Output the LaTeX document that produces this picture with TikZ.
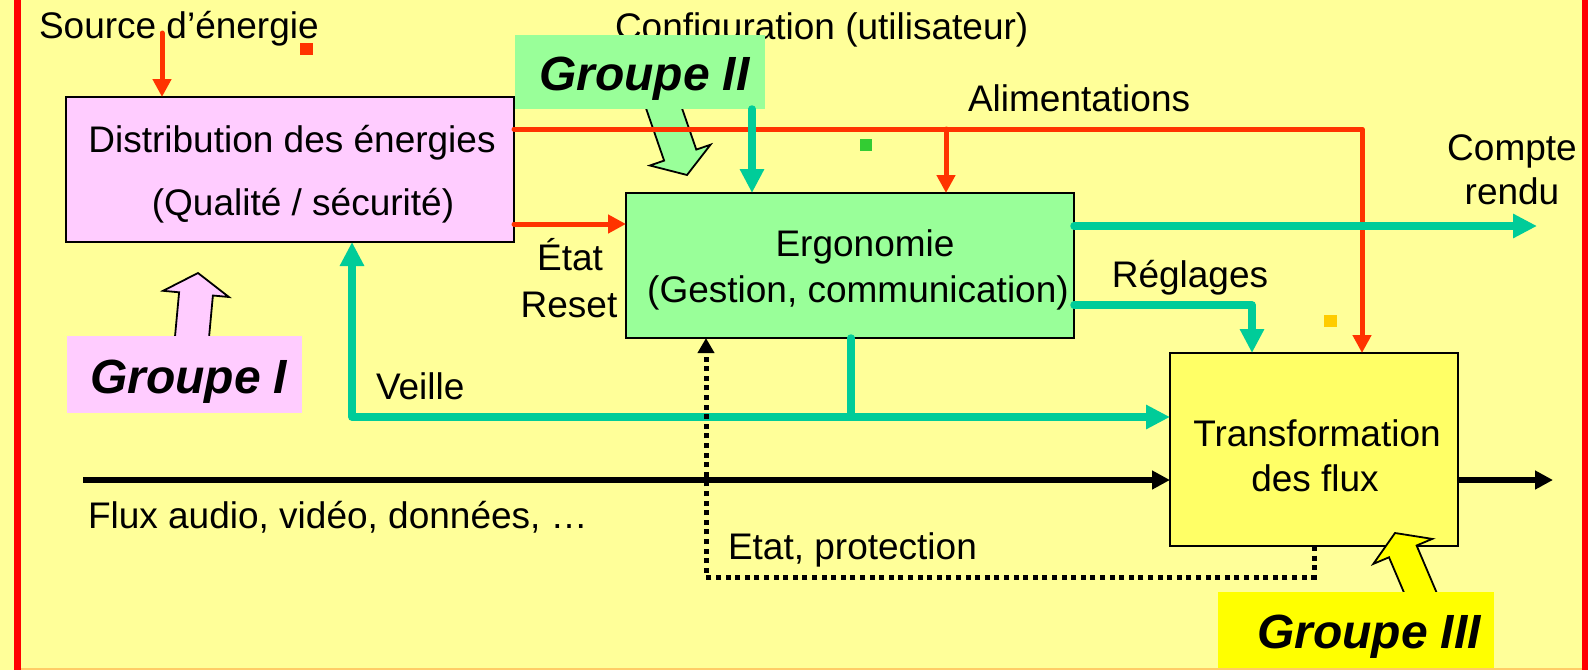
\documentclass[tikz,border=0pt]{standalone}
\usepackage{fontspec}
\setmainfont{Liberation Sans}
\usetikzlibrary{arrows.meta}

\definecolor{bgyellow}{HTML}{FFFF99}
\definecolor{pinkbox}{HTML}{FFCCFF}
\definecolor{greenbox}{HTML}{99FF99}
\definecolor{yellowbox}{HTML}{FFFF66}
\definecolor{brightyellow}{HTML}{FFFF00}
\definecolor{powerred}{HTML}{FF3300}
\definecolor{ctrlteal}{HTML}{00CC99}
\definecolor{framered}{HTML}{FF0000}
\definecolor{dotgreen}{HTML}{33CC33}
\definecolor{dotorange}{HTML}{FFCC00}
\definecolor{edgeorange}{HTML}{FFCC66}

\begin{document}
\begin{tikzpicture}[x=1pt,y=-1pt,
  every node/.style={inner sep=0pt, outer sep=0pt, font=\fontsize{37}{44}\selectfont},
  fnbox/.style={draw=black, line width=1.8pt, rectangle},
  groupbox/.style={rectangle},
  grouptext/.style={anchor=base west, font=\fontsize{48}{58}\selectfont\bfseries\itshape},
  lbl/.style={anchor=base},
  lblw/.style={anchor=base west},
  blockarrow/.style={draw=black, line width=1.8pt, line join=miter},
  power/.style={draw=powerred, line width=5pt, line join=round, line cap=round},
  powerarrow/.style={power, -{Triangle[length=18pt,width=18pt]}},
  ctrl/.style={draw=ctrlteal, line width=7.5pt, line join=round, line cap=round},
  ctrlarrow/.style={ctrl, -{Triangle[length=24pt,width=23pt]}},
  flux/.style={draw=black, line width=5.5pt, -{Triangle[length=18pt,width=18pt]}},
  statusline/.style={draw=black, line width=5pt, dash pattern=on 5pt off 4.6pt,
    -{Triangle[length=15pt,width=16pt]}},
  framebar/.style={draw=framered, line width=7.5pt}
]
% canvas
\fill[bgyellow] (0,0) rectangle (1588,670);
\useasboundingbox (0,0) rectangle (1588,670);

% user configuration label (partly hidden by the group II tag)
\node[lblw] (cfg) at (615,39) {Configuration (utilisateur)};

% block arrows of the group tags
\filldraw[blockarrow, fill=pinkbox] (208.2,346.3) -- (212.9,295.5) -- (228.9,297.0) -- (198,273)
  -- (163.1,290.8) -- (179.1,292.3) -- (174.4,343.1) -- cycle;
\filldraw[blockarrow, fill=greenbox] (677.0,93.8) -- (696.3,149.6) -- (710.5,144.7) -- (687,175)
  -- (649.9,165.5) -- (664.1,160.6) -- (644.8,104.8) -- cycle;

% group tags I and II
\node[groupbox, fill=pinkbox, minimum width=235pt, minimum height=77pt] (g1) at (184.5,374.5) {};
\node[grouptext] (g1t) at (90,393) {Groupe I};
\node[groupbox, fill=greenbox, minimum width=250pt, minimum height=74pt] (g2) at (640,72) {};
\node[grouptext] (g2t) at (539,90) {Groupe II};

% functional blocks
\node[fnbox, fill=pinkbox, minimum width=448pt, minimum height=145pt] (dist) at (290,169.5) {};
\node[lbl] (distA) at (292,152) {Distribution des énergies};
\node[lbl] (distB) at (303,215) {(Qualité / sécurité)};

\node[fnbox, fill=greenbox, minimum width=448pt, minimum height=145pt] (ergo) at (850,265.5) {};
\node[lbl] (ergoA) at (865,256) {Ergonomie};
\node[lbl] (ergoB) at (858,302) {(Gestion, communication)};

\node[fnbox, fill=yellowbox, minimum width=288pt, minimum height=193pt] (trans) at (1314,449.5) {};
\node[lbl] (transA) at (1317,446) {Transformation};
\node[lbl] (transB) at (1315,491) {des flux};

% group tag III
\filldraw[blockarrow, fill=brightyellow] (1440.1,600.8) -- (1416.6,545.5) -- (1432.3,538.9) -- (1395,533)
  -- (1373.3,563.9) -- (1389.0,557.3) -- (1412.5,612.6) -- cycle;
\node[groupbox, fill=brightyellow, minimum width=276pt, minimum height=78pt] (g3) at (1356,631) {};
\node[grouptext] (g3t) at (1257,648) {Groupe III};

% routing coordinates
\coordinate (srcpt) at (162,33);
\coordinate (alimY) at (0,129);
\coordinate (alimX) at (1362,0);
\coordinate (brX) at (946,0);
\coordinate (etatY) at (0,224);
\coordinate (cfgX) at (752,0);
\coordinate (crY) at (0,226);
\coordinate (crEnd) at (1537,226);
\coordinate (regY) at (0,305);
\coordinate (regX) at (1252,0);
\coordinate (veilleX) at (851,0);
\coordinate (veilleY) at (0,417);
\coordinate (veilleL) at (352,0);
\coordinate (fluxIn) at (83,480);
\coordinate (fluxOut) at (1553,480);
\coordinate (dotY) at (0,577);
\coordinate (dotX) at (706,0);

% power distribution (red)
\draw[powerarrow] (srcpt) -- (srcpt |- dist.north);
\draw[powerarrow] (dist.east |- alimY) -| (alimX |- trans.north);
\draw[powerarrow] (brX |- alimY) -- (brX |- ergo.north);
\draw[powerarrow] (dist.east |- etatY) -- (ergo.west |- etatY);

% control signals (teal)
\draw[ctrlarrow] (cfgX |- g2.south) -- (cfgX |- ergo.north);
\draw[ctrlarrow] (ergo.east |- crY) -- (crEnd);
\draw[ctrlarrow] (ergo.east |- regY) -| (regX |- trans.north);
\draw[ctrlarrow] (veilleX |- ergo.south) |- (veilleL |- veilleY) -- (veilleL |- dist.south);
\draw[ctrlarrow] (veilleX |- veilleY) -- (trans.west |- veilleY);

% data flow (black)
\draw[flux] (fluxIn) -- (trans.west |- fluxIn);
\draw[flux] (trans.east |- fluxIn) -- (fluxOut);

% status feedback (dotted)
\draw[statusline] (trans.south) |- (dotX |- dotY) -- (dotX |- ergo.south);

% connector labels
\node[lblw] (src) at (39,38) {Source d’énergie};
\node[lblw] (alim) at (968,111) {Alimentations};
\node[lbl] (compte) at (1512,160) {Compte};
\node[lbl] (rendu) at (1512,204) {rendu};
\node[lbl] (etat) at (570,270) {État};
\node[lbl] (reset) at (569,317) {Reset};
\node[lbl] (regl) at (1190,287) {Réglages};
\node[lblw] (veille) at (376,399) {Veille};
\node[lblw] (fluxlbl) at (88,528) {Flux audio, vidéo, données, …};
\node[lblw] (etatprot) at (728,559) {Etat, protection};

% small marks
\fill[powerred] (300,43) rectangle (313,55);
\fill[dotgreen] (860,139) rectangle (872,151);
\fill[dotorange] (1324,315) rectangle (1337,327);

% page frame
\draw[framebar] (17.5,0) -- (17.5,670);
\draw[framebar, line width=6pt] (1585,0) -- (1585,670);
\draw[edgeorange, line width=2pt] (21,669) -- (1582,669);
\end{tikzpicture}
\end{document}
